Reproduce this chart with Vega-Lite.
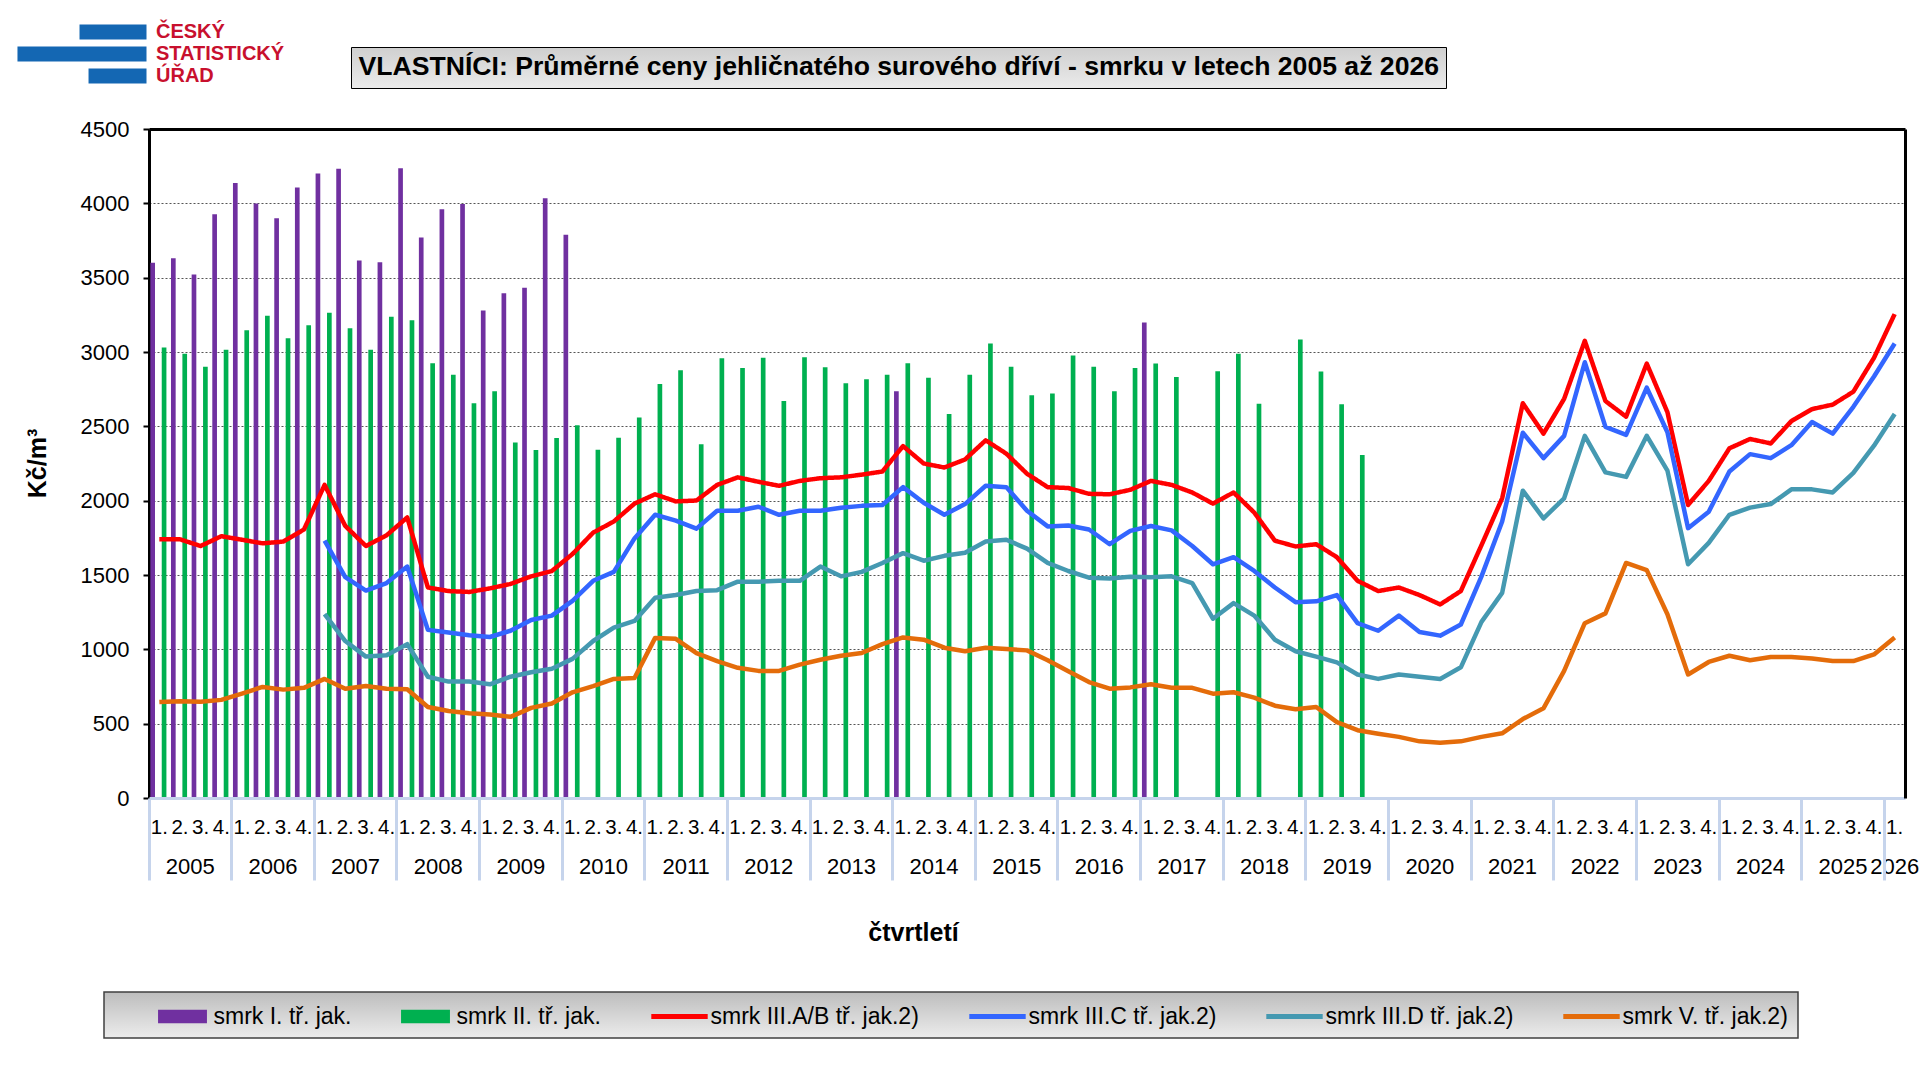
{
  "$schema": "https://vega.github.io/schema/vega-lite/v6.json",
  "autosize": {"type": "none"},
  "padding": {"left": 149, "top": 129, "right": 22, "bottom": 270},
  "width": 1756,
  "height": 669,
  "background": "white",
  "config": {
    "font": "Liberation Sans",
    "view": {"stroke": null},
    "axis": {"labelFont": "Liberation Sans", "labelColor": "black", "titleColor": "black", "titleFont": "Liberation Sans"},
    "legend": {"labelFont": "Liberation Sans", "titleFont": "Liberation Sans"}
  },
  "data": {"values": [
    {"t": "2005-1", "p": 3600, "g": 3030, "r": 1740, "o": 645},
    {"t": "2005-2", "p": 3630, "g": 2988, "r": 1740, "o": 651},
    {"t": "2005-3", "p": 3522, "g": 2901, "r": 1695, "o": 648},
    {"t": "2005-4", "p": 3927, "g": 3015, "r": 1761, "o": 660},
    {"t": "2006-1", "p": 4137, "g": 3147, "r": 1737, "o": 702},
    {"t": "2006-2", "p": 3999, "g": 3243, "r": 1713, "o": 747},
    {"t": "2006-3", "p": 3900, "g": 3093, "r": 1725, "o": 729},
    {"t": "2006-4", "p": 4107, "g": 3180, "r": 1806, "o": 741},
    {"t": "2007-1", "p": 4200, "g": 3264, "r": 2106, "b": 1731, "d": 1236, "o": 801},
    {"t": "2007-2", "p": 4233, "g": 3159, "r": 1830, "b": 1485, "d": 1056, "o": 735},
    {"t": "2007-3", "p": 3615, "g": 3015, "r": 1695, "b": 1395, "d": 951, "o": 753},
    {"t": "2007-4", "p": 3603, "g": 3237, "r": 1767, "b": 1446, "d": 960, "o": 735},
    {"t": "2008-1", "p": 4236, "g": 3213, "r": 1887, "b": 1557, "d": 1035, "o": 732},
    {"t": "2008-2", "p": 3771, "g": 2925, "r": 1416, "b": 1131, "d": 816, "o": 612},
    {"t": "2008-3", "p": 3960, "g": 2847, "r": 1392, "b": 1113, "d": 783, "o": 585},
    {"t": "2008-4", "p": 3996, "g": 2655, "r": 1386, "b": 1095, "d": 783, "o": 570},
    {"t": "2009-1", "p": 3279, "g": 2736, "r": 1410, "b": 1083, "d": 765, "o": 561},
    {"t": "2009-2", "p": 3396, "g": 2391, "r": 1440, "b": 1125, "d": 816, "o": 546},
    {"t": "2009-3", "p": 3432, "g": 2340, "r": 1491, "b": 1197, "d": 846, "o": 606},
    {"t": "2009-4", "p": 4035, "g": 2421, "r": 1527, "b": 1227, "d": 870, "o": 636},
    {"t": "2010-1", "p": 3789, "g": 2508, "r": 1641, "b": 1326, "d": 936, "o": 711},
    {"t": "2010-2", "g": 2343, "r": 1785, "b": 1461, "d": 1056, "o": 753},
    {"t": "2010-3", "g": 2424, "r": 1860, "b": 1521, "d": 1146, "o": 801},
    {"t": "2010-4", "g": 2559, "r": 1980, "b": 1746, "d": 1191, "o": 807},
    {"t": "2011-1", "g": 2784, "r": 2043, "b": 1905, "d": 1347, "o": 1077},
    {"t": "2011-2", "g": 2877, "r": 1995, "b": 1866, "d": 1365, "o": 1071},
    {"t": "2011-3", "g": 2379, "r": 2001, "b": 1812, "d": 1392, "o": 975},
    {"t": "2011-4", "g": 2958, "r": 2106, "b": 1932, "d": 1398, "o": 921},
    {"t": "2012-1", "g": 2892, "r": 2157, "b": 1932, "d": 1455, "o": 876},
    {"t": "2012-2", "g": 2961, "r": 2127, "b": 1959, "d": 1455, "o": 855},
    {"t": "2012-3", "g": 2670, "r": 2100, "b": 1905, "d": 1461, "o": 855},
    {"t": "2012-4", "g": 2964, "r": 2133, "b": 1932, "d": 1461, "o": 897},
    {"t": "2013-1", "g": 2898, "r": 2151, "b": 1932, "d": 1557, "o": 930},
    {"t": "2013-2", "g": 2790, "r": 2157, "b": 1953, "d": 1491, "o": 957},
    {"t": "2013-3", "g": 2817, "r": 2175, "b": 1965, "d": 1521, "o": 975},
    {"t": "2013-4", "g": 2847, "r": 2196, "b": 1971, "d": 1581, "o": 1035},
    {"t": "2014-1", "p": 2736, "g": 2925, "r": 2367, "b": 2091, "d": 1647, "o": 1080},
    {"t": "2014-2", "g": 2826, "r": 2250, "b": 1986, "d": 1596, "o": 1065},
    {"t": "2014-3", "g": 2583, "r": 2223, "b": 1905, "d": 1629, "o": 1011},
    {"t": "2014-4", "g": 2847, "r": 2277, "b": 1977, "d": 1650, "o": 987},
    {"t": "2015-1", "g": 3057, "r": 2406, "b": 2100, "d": 1725, "o": 1011},
    {"t": "2015-2", "g": 2901, "r": 2316, "b": 2091, "d": 1737, "o": 1002},
    {"t": "2015-3", "g": 2709, "r": 2181, "b": 1932, "d": 1677, "o": 993},
    {"t": "2015-4", "g": 2721, "r": 2091, "b": 1827, "d": 1581, "o": 927},
    {"t": "2016-1", "g": 2976, "r": 2085, "b": 1833, "d": 1527, "o": 852},
    {"t": "2016-2", "g": 2901, "r": 2046, "b": 1806, "d": 1482, "o": 780},
    {"t": "2016-3", "g": 2736, "r": 2043, "b": 1707, "d": 1476, "o": 735},
    {"t": "2016-4", "g": 2892, "r": 2073, "b": 1797, "d": 1488, "o": 744},
    {"t": "2017-1", "p": 3198, "g": 2922, "r": 2133, "b": 1830, "d": 1485, "o": 765},
    {"t": "2017-2", "g": 2832, "r": 2106, "b": 1800, "d": 1491, "o": 741},
    {"t": "2017-3", "r": 2055, "b": 1695, "d": 1446, "o": 741},
    {"t": "2017-4", "g": 2871, "r": 1980, "b": 1572, "d": 1206, "o": 702},
    {"t": "2018-1", "g": 2988, "r": 2055, "b": 1620, "d": 1311, "o": 711},
    {"t": "2018-2", "g": 2652, "r": 1920, "b": 1527, "d": 1227, "o": 675},
    {"t": "2018-3", "r": 1731, "b": 1416, "d": 1065, "o": 621},
    {"t": "2018-4", "g": 3084, "r": 1692, "b": 1317, "d": 987, "o": 597},
    {"t": "2019-1", "g": 2868, "r": 1707, "b": 1323, "d": 951, "o": 612},
    {"t": "2019-2", "g": 2649, "r": 1620, "b": 1365, "d": 912, "o": 510},
    {"t": "2019-3", "g": 2307, "r": 1461, "b": 1176, "d": 831, "o": 456},
    {"t": "2019-4", "r": 1392, "b": 1125, "d": 801, "o": 432},
    {"t": "2020-1", "r": 1416, "b": 1227, "d": 831, "o": 411},
    {"t": "2020-2", "r": 1365, "b": 1116, "d": 816, "o": 381},
    {"t": "2020-3", "r": 1302, "b": 1092, "d": 801, "o": 372},
    {"t": "2020-4", "r": 1392, "b": 1167, "d": 879, "o": 381},
    {"t": "2021-1", "r": 1701, "b": 1491, "d": 1185, "o": 411},
    {"t": "2021-2", "r": 2016, "b": 1860, "d": 1380, "o": 435},
    {"t": "2021-3", "r": 2655, "b": 2457, "d": 2067, "o": 531},
    {"t": "2021-4", "r": 2451, "b": 2286, "d": 1881, "o": 603},
    {"t": "2022-1", "r": 2685, "b": 2436, "d": 2016, "o": 855},
    {"t": "2022-2", "r": 3075, "b": 2931, "d": 2436, "o": 1176},
    {"t": "2022-3", "r": 2670, "b": 2496, "d": 2190, "o": 1242},
    {"t": "2022-4", "r": 2565, "b": 2442, "d": 2160, "o": 1581},
    {"t": "2023-1", "r": 2922, "b": 2760, "d": 2436, "o": 1533},
    {"t": "2023-2", "r": 2595, "b": 2460, "d": 2202, "o": 1236},
    {"t": "2023-3", "r": 1971, "b": 1815, "d": 1572, "o": 831},
    {"t": "2023-4", "r": 2133, "b": 1926, "d": 1716, "o": 915},
    {"t": "2024-1", "r": 2352, "b": 2196, "d": 1905, "o": 957},
    {"t": "2024-2", "r": 2415, "b": 2313, "d": 1953, "o": 927},
    {"t": "2024-3", "r": 2385, "b": 2286, "d": 1977, "o": 948},
    {"t": "2024-4", "r": 2535, "b": 2373, "d": 2076, "o": 948},
    {"t": "2025-1", "r": 2616, "b": 2529, "d": 2076, "o": 939},
    {"t": "2025-2", "r": 2646, "b": 2451, "d": 2055, "o": 921},
    {"t": "2025-3", "r": 2733, "b": 2631, "d": 2187, "o": 921},
    {"t": "2025-4", "r": 2961, "b": 2835, "d": 2370, "o": 966},
    {"t": "2026-1", "r": 3255, "b": 3057, "d": 2583, "o": 1080}
  ]},
  "resolve": {"axis": {"x": "independent", "y": "independent"}},
  "layer": [
    {
      "transform": [{"fold": ["p", "g"], "as": ["s", "v"]}],
      "mark": {"type": "bar"},
      "encoding": {
        "x": {"field": "t", "type": "ordinal", "scale": {"type": "band", "paddingInner": 0, "paddingOuter": 0},
          "axis": {"orient": "bottom", "title": null, "domain": true, "domainColor": "#c6d4ec", "domainWidth": 3, "ticks": false, "tickSize": 0, "labelAngle": 0, "labelExpr": "substring(datum.value, 5) + '.'", "labelFontSize": 20.5, "labelPadding": 29, "labelBaseline": "middle", "labelOverlap": false, "labelBound": false, "labelFlush": false, "zindex": 1}},
        "xOffset": {"field": "s", "type": "nominal", "scale": {"domain": ["p", "g"], "paddingInner": 0.59, "paddingOuter": 0.2, "align": 0.29}},
        "y": {"field": "v", "type": "quantitative", "scale": {"domain": [0, 4500], "nice": false, "zero": true},
          "axis": {"orient": "left", "values": [0, 500, 1000, 1500, 2000, 2500, 3000, 3500, 4000, 4500], "format": "d", "title": "Kč/m³", "titleFontSize": 25, "titleFontWeight": "bold", "titleX": -112, "titleY": 334, "titleAngle": -90, "titleAlign": "center", "titleBaseline": "middle", "domain": true, "domainColor": "black", "domainWidth": 3, "ticks": true, "tickColor": "black", "tickWidth": 2, "tickSize": 6, "labelFontSize": 22, "labelPadding": 14, "grid": true, "gridColor": "#555555", "gridDash": [2, 2], "gridWidth": 1}},
        "color": {"field": "s", "type": "nominal",
          "scale": {"domain": ["p", "g", "r", "b", "d", "o"], "range": ["#7030a0", "#00b050", "#ff0000", "#3366ff", "#4599b1", "#e46c0a"]},
          "legend": {"orient": "none", "legendX": -45, "legendY": 863, "direction": "horizontal", "columns": 6, "columnPadding": 49, "padding": 9.5,
            "title": "\u00a0", "titleOrient": "left", "titlePadding": 54, "titleFontSize": 22,
            "symbolSize": 900, "labelOffset": 16, "labelFontSize": 23, "labelLimit": 0, "labelColor": "black",
            "labelExpr": "{'p': 'smrk I. tř. jak.', 'g': 'smrk II. tř. jak.', 'r': 'smrk III.A/B tř. jak.2)', 'b': 'smrk III.C tř. jak.2)', 'd': 'smrk III.D tř. jak.2)', 'o': 'smrk V. tř. jak.2)'}[datum.value]",
            "fillColor": "#d6d6d6", "strokeColor": "#404040",
            "encode": {
              "symbols": {"update": {
                "shape": {"signal": "(datum.value === 'p' || datum.value === 'g') ? 'M-1.63,-0.45H1.63V0.45H-1.63Z' : 'M-1.88,-0.17H1.88V0.17H-1.88Z'"},
                "fill": {"scale": "color", "field": "value"},
                "stroke": {"value": "transparent"},
                "strokeWidth": {"value": 0},
                "opacity": {"value": 1}}},
              "legend": {"update": {"fill": {"value": {"gradient": "linear", "x1": 0, "y1": 0, "x2": 0, "y2": 1, "stops": [{"offset": 0, "color": "#bdbdbd"}, {"offset": 1, "color": "#ececec"}]}}, "strokeWidth": {"value": 1.5}}}
            }}}
      }
    },
    {
      "transform": [{"fold": ["r"], "as": ["s", "v"]}],
      "mark": {"type": "line", "strokeWidth": 4.5, "strokeJoin": "round"},
      "encoding": {
        "x": {"field": "t", "type": "ordinal", "scale": {"type": "band", "paddingInner": 0, "paddingOuter": 0},
          "axis": {"orient": "bottom", "values": ["2005-3", "2006-3", "2007-3", "2008-3", "2009-3", "2010-3", "2011-3", "2012-3", "2013-3", "2014-3", "2015-3", "2016-3", "2017-3", "2018-3", "2019-3", "2020-3", "2021-3", "2022-3", "2023-3", "2024-3", "2025-3", "2026-1"],
            "domain": false, "ticks": false, "tickSize": 0, "labelAngle": 0, "labelExpr": "substring(datum.value, 0, 4)", "labelFontSize": 22, "labelPadding": 68, "labelBaseline": "middle", "labelOverlap": false, "labelBound": false, "labelFlush": false,
            "labelOffset": {"condition": {"test": "datum.value === '2026-1'", "value": 0}, "value": -10.33},
            "title": "čtvrtletí", "titleFontSize": 25, "titleFontWeight": "bold", "titleX": 764, "titleY": 134, "titleAlign": "center", "titleBaseline": "middle", "zindex": 1}},
        "y": {"field": "v", "type": "quantitative", "scale": {"domain": [0, 4500], "nice": false, "zero": true},
          "axis": {"orient": "right", "title": null, "domain": true, "domainColor": "black", "domainWidth": 3, "ticks": false, "labels": false, "grid": false, "zindex": 1}},
        "color": {"field": "s", "type": "nominal", "scale": {"domain": ["p", "g", "r", "b", "d", "o"], "range": ["#7030a0", "#00b050", "#ff0000", "#3366ff", "#4599b1", "#e46c0a"]}},
        "strokeDash": {"datum": "VLASTNÍCI: Průměrné ceny jehličnatého surového dříví - smrku v letech 2005 až 2026", "type": "nominal", "scale": {"range": [[1, 0]]},
          "legend": {"orient": "none", "legendX": 202, "legendY": -82, "title": null, "padding": 7, "symbolSize": 0, "symbolOpacity": 0, "symbolStrokeWidth": 0, "labelOffset": -26, "labelFontSize": 26.6, "labelFontWeight": "bold", "labelLimit": 0, "labelColor": "black", "fillColor": "#d9d9d9", "strokeColor": "black", "zindex": 2,
            "encode": {"legend": {"update": {"fill": {"value": {"gradient": "linear", "x1": 0, "y1": 0, "x2": 0, "y2": 1, "stops": [{"offset": 0, "color": "#cfcfcf"}, {"offset": 1, "color": "#ebebeb"}]}}, "strokeWidth": {"value": 1}}}}}}
      }
    },
    {
      "transform": [{"fold": ["b"], "as": ["s", "v"]}],
      "mark": {"type": "line", "strokeWidth": 4.5, "strokeJoin": "round"},
      "encoding": {
        "x": {"field": "t", "type": "ordinal", "scale": {"type": "band", "paddingInner": 0, "paddingOuter": 0},
          "axis": {"orient": "bottom", "values": ["2005-1", "2006-1", "2007-1", "2008-1", "2009-1", "2010-1", "2011-1", "2012-1", "2013-1", "2014-1", "2015-1", "2016-1", "2017-1", "2018-1", "2019-1", "2020-1", "2021-1", "2022-1", "2023-1", "2024-1", "2025-1", "2026-1"],
            "bandPosition": 0, "domain": false, "ticks": true, "tickSize": 82, "tickColor": "#c6d4ec", "tickWidth": 3, "labels": false, "grid": false, "title": null, "zindex": 1}},
        "y": {"field": "v", "type": "quantitative", "scale": {"domain": [0, 4500], "nice": false, "zero": true}, "axis": null},
        "color": {"field": "s", "type": "nominal", "scale": {"domain": ["p", "g", "r", "b", "d", "o"], "range": ["#7030a0", "#00b050", "#ff0000", "#3366ff", "#4599b1", "#e46c0a"]}},
        "opacity": {"datum": "VLASTNÍCI: Průměrné ceny jehličnatého surového dříví - smrku v letech 2005 až 2026", "type": "ordinal", "scale": {"range": [1, 1]},
          "legend": {"orient": "none", "legendX": 208, "legendY": -76, "title": null, "padding": 7, "symbolSize": 0, "symbolOpacity": 0, "symbolStrokeWidth": 0, "labelOffset": -26, "labelFontSize": 26.6, "labelFontWeight": "bold", "labelLimit": 0, "labelColor": "black", "fillColor": "black", "strokeColor": "black", "zindex": 1}}
      }
    },
    {
      "transform": [{"fold": ["d"], "as": ["s", "v"]}],
      "mark": {"type": "line", "strokeWidth": 4.5, "strokeJoin": "round"},
      "encoding": {
        "x": {"field": "t", "type": "ordinal", "scale": {"type": "band", "paddingInner": 0, "paddingOuter": 0},
          "axis": {"orient": "top", "domain": true, "domainColor": "black", "domainWidth": 3, "ticks": false, "labels": false, "grid": false, "title": null, "zindex": 1}},
        "y": {"field": "v", "type": "quantitative", "scale": {"domain": [0, 4500], "nice": false, "zero": true}, "axis": null},
        "color": {"field": "s", "type": "nominal", "scale": {"domain": ["p", "g", "r", "b", "d", "o"], "range": ["#7030a0", "#00b050", "#ff0000", "#3366ff", "#4599b1", "#e46c0a"]}},
        "strokeWidth": {"datum": "ČESKÝ", "type": "nominal", "scale": {"domain": ["ČESKÝ", "STATISTICKÝ", "ÚŘAD"], "range": [4.5, 4.5]},
          "legend": {"orient": "none", "legendX": -137, "legendY": -108, "direction": "vertical", "title": null, "padding": 0, "rowPadding": 0, "clipHeight": 22, "symbolSize": 484, "labelOffset": 117, "labelFontSize": 20, "labelFontWeight": "bold", "labelColor": "#c8102e", "labelLimit": 0, "labelBaseline": "middle",
            "values": ["ČESKÝ", "STATISTICKÝ", "ÚŘAD"],
            "encode": {"symbols": {"update": {
              "shape": {"signal": "datum.value === 'ČESKÝ' ? 'M4.91,-0.68H11V0.68H4.91Z' : (datum.value === 'STATISTICKÝ' ? 'M-0.73,-0.68H11V0.68H-0.73Z' : 'M5.73,-0.68H11V0.68H5.73Z')"},
              "fill": {"value": "#1467b3"},
              "stroke": {"value": "transparent"},
              "strokeWidth": {"value": 0},
              "opacity": {"value": 1}}}}}}
      }
    },
    {
      "transform": [{"fold": ["o"], "as": ["s", "v"]}],
      "mark": {"type": "line", "strokeWidth": 4.5, "strokeJoin": "round"},
      "encoding": {
        "x": {"field": "t", "type": "ordinal", "scale": {"type": "band", "paddingInner": 0, "paddingOuter": 0}, "axis": null},
        "y": {"field": "v", "type": "quantitative", "scale": {"domain": [0, 4500], "nice": false, "zero": true}, "axis": null},
        "color": {"field": "s", "type": "nominal", "scale": {"domain": ["p", "g", "r", "b", "d", "o"], "range": ["#7030a0", "#00b050", "#ff0000", "#3366ff", "#4599b1", "#e46c0a"]}}
      }
    }
  ]
}
